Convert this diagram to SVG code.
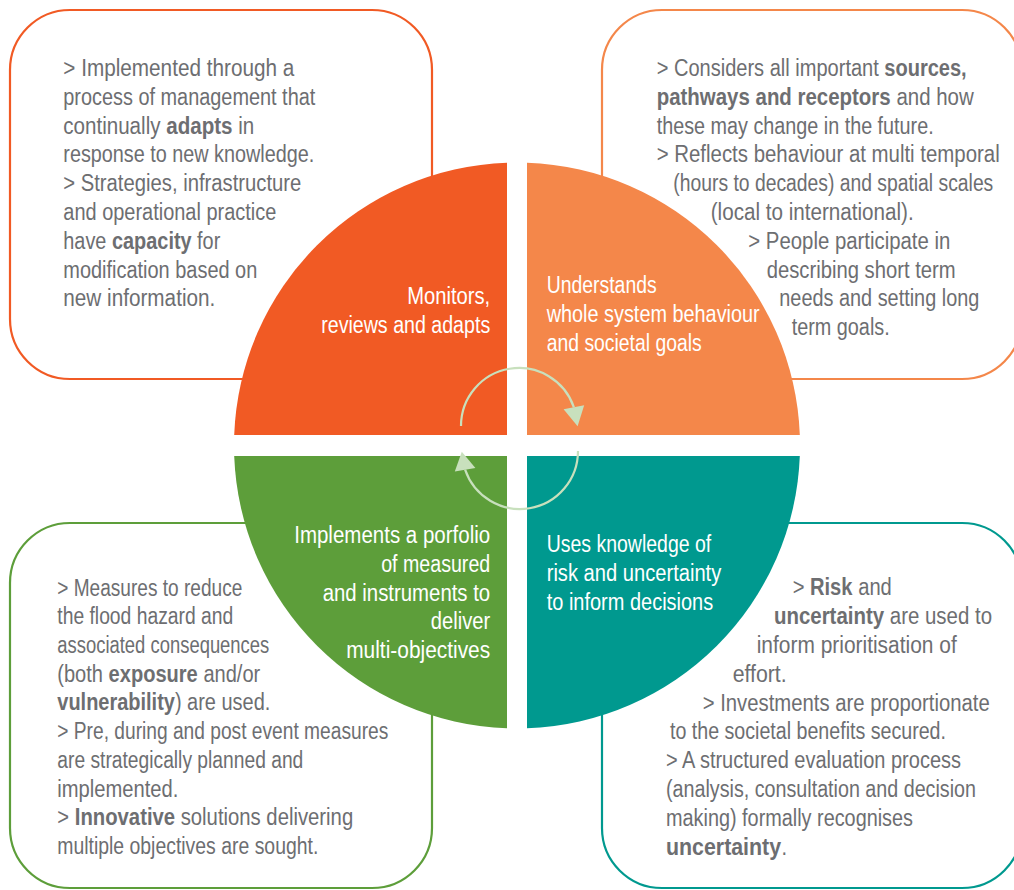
<svg xmlns="http://www.w3.org/2000/svg" width="1014" height="890" viewBox="0 0 1014 890">
<style>
.box{fill:#ffffff;stroke-width:2.2}
.t{font-family:"Liberation Sans",Arial,sans-serif;font-size:20px;fill:#6d6e71}
.w{font-family:"Liberation Sans",Arial,sans-serif;font-size:20px;fill:#ffffff}
.b{font-weight:bold}
.arc{fill:none;stroke:#c8e0bd;stroke-width:2.2}
.head{fill:#c8e0bd}
</style>
<rect width="1014" height="890" fill="#ffffff"/>

<g id="box-monitor">
<rect class="box" x="10" y="10" width="422" height="369" rx="60" ry="60" stroke="#f15a24"/>
<g transform="scale(1 1.15)">
<text class="t" x="63.3" y="66.087" textLength="231" lengthAdjust="spacingAndGlyphs">&gt; Implemented through a</text>
<text class="t" x="63.3" y="91.13" textLength="252" lengthAdjust="spacingAndGlyphs">process of management that</text>
<text class="t" x="63.3" y="116.174" textLength="97.2" lengthAdjust="spacingAndGlyphs">continually</text>
<text class="t b" x="166.2" y="116.174" textLength="66.3" lengthAdjust="spacingAndGlyphs">adapts</text>
<text class="t" x="238.2" y="116.174" textLength="16" lengthAdjust="spacingAndGlyphs">in</text>
<text class="t" x="63.3" y="141.217" textLength="251" lengthAdjust="spacingAndGlyphs">response to new knowledge.</text>
<text class="t" x="63.3" y="166.261" textLength="238" lengthAdjust="spacingAndGlyphs">&gt; Strategies, infrastructure</text>
<text class="t" x="63.3" y="191.304" textLength="213" lengthAdjust="spacingAndGlyphs">and operational practice</text>
<text class="t" x="63.3" y="216.348" textLength="43.1" lengthAdjust="spacingAndGlyphs">have</text>
<text class="t b" x="112" y="216.348" textLength="79.6" lengthAdjust="spacingAndGlyphs">capacity</text>
<text class="t" x="197.1" y="216.348" textLength="23.2" lengthAdjust="spacingAndGlyphs">for</text>
<text class="t" x="63.3" y="241.391" textLength="194" lengthAdjust="spacingAndGlyphs">modification based on</text>
<text class="t" x="63.3" y="266.435" textLength="152" lengthAdjust="spacingAndGlyphs">new information.</text>
</g>
</g>

<g id="box-understand">
<rect class="box" x="602" y="10" width="420" height="369" rx="60" ry="60" stroke="#f4874a"/>
<g transform="scale(1 1.15)">
<text class="t" x="656.7" y="66.087" textLength="222.1" lengthAdjust="spacingAndGlyphs">&gt; Considers all important</text>
<text class="t b" x="884.3" y="66.087" textLength="82.4" lengthAdjust="spacingAndGlyphs">sources,</text>
<text class="t b" x="656.7" y="91.13" textLength="234" lengthAdjust="spacingAndGlyphs">pathways and receptors</text>
<text class="t" x="896.4" y="91.13" textLength="77.3" lengthAdjust="spacingAndGlyphs">and how</text>
<text class="t" x="656.7" y="116.174" textLength="277" lengthAdjust="spacingAndGlyphs">these may change in the future.</text>
<text class="t" x="656.7" y="141.217" textLength="343" lengthAdjust="spacingAndGlyphs">&gt; Reflects behaviour at multi temporal</text>
<text class="t" x="673.3" y="166.261" textLength="320" lengthAdjust="spacingAndGlyphs">(hours to decades) and spatial scales</text>
<text class="t" x="710.7" y="191.304" textLength="203" lengthAdjust="spacingAndGlyphs">(local to international).</text>
<text class="t" x="748.3" y="216.348" textLength="202" lengthAdjust="spacingAndGlyphs">&gt; People participate in</text>
<text class="t" x="766.7" y="241.391" textLength="189" lengthAdjust="spacingAndGlyphs">describing short term</text>
<text class="t" x="779.3" y="266.435" textLength="200" lengthAdjust="spacingAndGlyphs">needs and setting long</text>
<text class="t" x="791.7" y="291.478" textLength="98" lengthAdjust="spacingAndGlyphs">term goals.</text>
</g>
</g>

<g id="box-implement">
<rect class="box" x="10" y="523" width="422" height="365" rx="60" ry="60" stroke="#5d9e3a"/>
<g transform="scale(1 1.15)">
<text class="t" x="57.3" y="518" textLength="185" lengthAdjust="spacingAndGlyphs">&gt; Measures to reduce</text>
<text class="t" x="57.3" y="542.957" textLength="176" lengthAdjust="spacingAndGlyphs">the flood hazard and</text>
<text class="t" x="57.3" y="567.913" textLength="212" lengthAdjust="spacingAndGlyphs">associated consequences</text>
<text class="t" x="57.3" y="592.87" textLength="45.7" lengthAdjust="spacingAndGlyphs">(both</text>
<text class="t b" x="108.6" y="592.87" textLength="89.2" lengthAdjust="spacingAndGlyphs">exposure</text>
<text class="t" x="203.4" y="592.87" textLength="56.9" lengthAdjust="spacingAndGlyphs">and/or</text>
<text class="t b" x="57.3" y="617.826" textLength="117.6" lengthAdjust="spacingAndGlyphs">vulnerability</text>
<text class="t" x="174.9" y="617.826" textLength="95.4" lengthAdjust="spacingAndGlyphs">) are used.</text>
<text class="t" x="57.3" y="642.783" textLength="331" lengthAdjust="spacingAndGlyphs">&gt; Pre, during and post event measures</text>
<text class="t" x="57.3" y="667.739" textLength="246" lengthAdjust="spacingAndGlyphs">are strategically planned and</text>
<text class="t" x="57.3" y="692.696" textLength="121" lengthAdjust="spacingAndGlyphs">implemented.</text>
<text class="t" x="57.3" y="717.652" textLength="11.8" lengthAdjust="spacingAndGlyphs">&gt;</text>
<text class="t b" x="74.8" y="717.652" textLength="100.3" lengthAdjust="spacingAndGlyphs">Innovative</text>
<text class="t" x="180.7" y="717.652" textLength="172.5" lengthAdjust="spacingAndGlyphs">solutions delivering</text>
<text class="t" x="57.3" y="742.609" textLength="261" lengthAdjust="spacingAndGlyphs">multiple objectives are sought.</text>
</g>
</g>

<g id="box-risk">
<rect class="box" x="602" y="523" width="420" height="365" rx="60" ry="60" stroke="#00998f"/>
<g transform="scale(1 1.15)">
<text class="t" x="792.7" y="517.391" textLength="11.8" lengthAdjust="spacingAndGlyphs">&gt;</text>
<text class="t b" x="810" y="517.391" textLength="42.5" lengthAdjust="spacingAndGlyphs">Risk</text>
<text class="t" x="858.2" y="517.391" textLength="33.6" lengthAdjust="spacingAndGlyphs">and</text>
<text class="t b" x="774" y="542.522" textLength="110.1" lengthAdjust="spacingAndGlyphs">uncertainty</text>
<text class="t" x="889.8" y="542.522" textLength="102.2" lengthAdjust="spacingAndGlyphs">are used to</text>
<text class="t" x="756.7" y="567.652" textLength="200" lengthAdjust="spacingAndGlyphs">inform prioritisation of</text>
<text class="t" x="732.7" y="592.783" textLength="54" lengthAdjust="spacingAndGlyphs">effort.</text>
<text class="t" x="702.7" y="617.913" textLength="287" lengthAdjust="spacingAndGlyphs">&gt; Investments are proportionate</text>
<text class="t" x="670" y="643.043" textLength="276" lengthAdjust="spacingAndGlyphs">to the societal benefits secured.</text>
<text class="t" x="666" y="668.174" textLength="295" lengthAdjust="spacingAndGlyphs">&gt; A structured evaluation process</text>
<text class="t" x="666" y="693.304" textLength="310" lengthAdjust="spacingAndGlyphs">(analysis, consultation and decision</text>
<text class="t" x="666" y="718.435" textLength="247" lengthAdjust="spacingAndGlyphs">making) formally recognises</text>
<text class="t b" x="666" y="743.565" textLength="115.1" lengthAdjust="spacingAndGlyphs">uncertainty</text>
<text class="t" x="781.6" y="743.565">.</text>
</g>
</g>

<g id="quad-monitor">
<path d="M507,435 V162.7 A283,283 0 0 0 234.2,435 Z" fill="#f15a24"/>
<g transform="scale(1 1.15)">
<text class="w" x="490.2" y="264.609" text-anchor="end" textLength="83" lengthAdjust="spacingAndGlyphs">Monitors,</text>
<text class="w" x="490.2" y="289.826" text-anchor="end" textLength="169" lengthAdjust="spacingAndGlyphs">reviews and adapts</text>
</g>
</g>

<g id="quad-understand">
<path d="M527,435 V162.7 A283,283 0 0 1 799.8,435 Z" fill="#f4874a"/>
<g transform="scale(1 1.15)">
<text class="w" x="546.7" y="255.217" textLength="110" lengthAdjust="spacingAndGlyphs">Understands</text>
<text class="w" x="546.7" y="280.435" textLength="213" lengthAdjust="spacingAndGlyphs">whole system behaviour</text>
<text class="w" x="546.7" y="305.652" textLength="155" lengthAdjust="spacingAndGlyphs">and societal goals</text>
</g>
</g>

<g id="quad-implement">
<path d="M507,456 V728.3 A283,283 0 0 1 234.2,456 Z" fill="#5d9e3a"/>
<g transform="scale(1 1.15)">
<text class="w" x="490.2" y="472.435" text-anchor="end" textLength="196" lengthAdjust="spacingAndGlyphs">Implements a porfolio</text>
<text class="w" x="490.2" y="497.391" text-anchor="end" textLength="109" lengthAdjust="spacingAndGlyphs">of measured</text>
<text class="w" x="490.2" y="522.348" text-anchor="end" textLength="167.5" lengthAdjust="spacingAndGlyphs">and instruments to</text>
<text class="w" x="490.2" y="547.304" text-anchor="end" textLength="59.4" lengthAdjust="spacingAndGlyphs">deliver</text>
<text class="w" x="490.2" y="572.261" text-anchor="end" textLength="144" lengthAdjust="spacingAndGlyphs">multi-objectives</text>
</g>
</g>

<g id="quad-risk">
<path d="M527,456 V728.3 A283,283 0 0 0 799.8,456 Z" fill="#00998f"/>
<g transform="scale(1 1.15)">
<text class="w" x="546.7" y="480" textLength="164.5" lengthAdjust="spacingAndGlyphs">Uses knowledge of</text>
<text class="w" x="546.7" y="505.217" textLength="174.6" lengthAdjust="spacingAndGlyphs">risk and uncertainty</text>
<text class="w" x="546.7" y="530.435" textLength="166.5" lengthAdjust="spacingAndGlyphs">to inform decisions</text>
</g>
</g>

<g id="connectors">
<path class="arc" d="M461,426 A58,58 0 0 1 573.9,407.3"/>
<polygon class="head" points="577.6,426.2 584.2,405.3 563.6,409.3"/>
<path class="arc" d="M578,451 A58,58 0 0 1 465.1,469.7"/>
<polygon class="head" points="461.8,451.8 454.8,471.5 475.4,467.9"/>
</g>
</svg>
